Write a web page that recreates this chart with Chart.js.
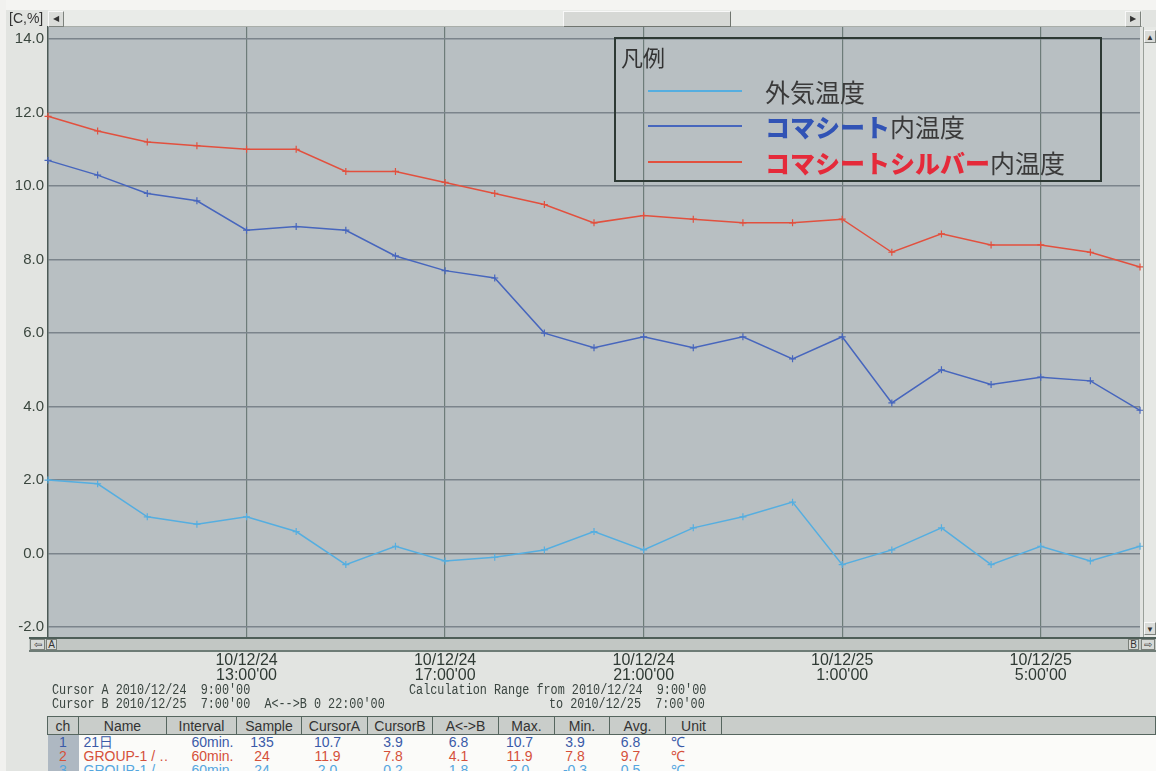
<!DOCTYPE html>
<html>
<head>
<meta charset="utf-8">
<script src="https://cdn.jsdelivr.net/npm/chart.js@4/dist/chart.umd.min.js"></script>
<style>
html,body{margin:0;padding:0;}
body{width:1156px;height:771px;position:relative;overflow:hidden;background:#e2e4e1;font-family:'Liberation Sans',Arial,sans-serif;}
#topband{position:absolute;left:0;top:0;width:1156px;height:10px;background:#f4f4f2;}
#leftband{position:absolute;left:0;top:0;width:6px;height:771px;background:#f1f1ef;}
#chartWrap{position:absolute;left:0;top:0;width:1156px;height:687px;}
#unit{position:absolute;left:9px;top:10px;font-size:14px;color:#333;font-family:'Liberation Sans',sans-serif;}
.sb{position:absolute;box-sizing:border-box;}
#hscrollTop{left:48px;top:10px;width:1094px;height:17px;background:#e9ebe8;border-bottom:1px solid #a9aea9;}
.btn{position:absolute;box-sizing:border-box;background:#dadcd9;border:1px solid #f8f8f8;border-right-color:#7d827d;border-bottom-color:#7d827d;font-size:8px;color:#333;text-align:center;line-height:13px;}
#thumb{position:absolute;left:515px;top:1px;width:168px;height:16px;box-sizing:border-box;background:#d6d8d5;border:1px solid #f8f8f8;border-right-color:#70756f;border-bottom-color:#70756f;}
#vscroll{left:1143px;top:27px;width:13px;height:610px;background:#e6e8e5;border-left:1px solid #9aa09a;}
#hscrollBot{left:29px;top:637px;width:1127px;height:15px;background:#c2c7c4;border-top:2px solid #4e5e58;border-bottom:2px solid #6e7c76;}
.box{position:absolute;box-sizing:border-box;background:#d7dad7;border:1px solid #7a807a;font-size:10px;color:#333;text-align:center;line-height:10px;font-family:'Liberation Sans',sans-serif;}
#legend{position:absolute;left:614px;top:37px;width:488px;height:145px;box-sizing:border-box;border:2px solid #2d3934;}
#legTitle{position:absolute;left:5px;top:3px;font-family:'Noto Sans CJK JP',sans-serif;font-size:22px;color:#333;line-height:28px;}
.legRow{position:absolute;left:0;width:480px;height:34px;}
.legLine{position:absolute;left:32px;width:94px;height:2px;top:16px;}
.legText{position:absolute;left:149px;top:0;font-family:'Noto Sans CJK JP',sans-serif;font-size:25px;line-height:34px;color:#3a3a3a;white-space:nowrap;}
.mono{position:absolute;font-family:'Liberation Mono','DejaVu Sans Mono',monospace;font-size:11.8px;color:#3a4540;white-space:pre;line-height:13px;transform:scaleY(1.25);transform-origin:0 0;}
#tbl{position:absolute;left:47px;top:716px;border-collapse:collapse;table-layout:fixed;width:1109px;font-family:'Liberation Sans Narrow','Liberation Sans',sans-serif;font-size:14px;}
#tbl th{height:17px;padding:0;font-weight:normal;color:#333;background:#c9cdca;border:1px solid #56665f;text-align:center;line-height:16px;}
#tbl td{height:14px;padding:0;line-height:14px;background:#fbfbf9;text-align:center;padding-right:14px;white-space:nowrap;overflow:hidden;}
#tbl td.ch{background:#aeb8c2;padding-right:0;}
#tbl td.name{text-align:left;padding-left:5px;padding-right:0;}
#tbl td.intv{text-align:right;padding-right:3px;}
#tbl td.unit{text-align:left;padding-left:5px;padding-right:0;}
#tbl td.rest{padding:0;}
</style>
</head>
<body>
<div id="topband"></div>
<div id="leftband"></div>
<div id="chartWrap"><canvas id="c" width="1156" height="687"></canvas></div>
<div id="unit">[C,%]</div>
<div class="sb" id="hscrollTop">
  <div class="btn" style="left:0;top:1px;width:16px;height:16px;">&#9664;</div>
  <div id="thumb"></div>
  <div class="btn" style="left:1077px;top:1px;width:16px;height:16px;">&#9654;</div>
</div>
<div class="sb" id="vscroll">
  <div class="btn" style="left:0;top:3px;width:12px;height:13px;">&#9650;</div>
  <div class="btn" style="left:0;top:595px;width:12px;height:13px;">&#9660;</div>
</div>
<div class="sb" id="hscrollBot">
  <div class="box" style="left:1px;top:0;width:15px;height:11px;">&#8678;</div>
  <div class="box" style="left:17px;top:0;width:11px;height:11px;">A</div>
  <div class="box" style="left:1099px;top:0;width:11px;height:11px;">B</div>
  <div class="box" style="left:1112px;top:0;width:14px;height:11px;">&#8680;</div>
</div>
<div id="legend"><div id="legTitle">凡例</div></div>
<div class="mono" style="left:52px;top:683px;">Cursor A 2010/12/24  9:00'00</div>
<div class="mono" style="left:52px;top:697px;">Cursor B 2010/12/25  7:00'00  A&lt;--&gt;B 0 22:00'00</div>
<div class="mono" style="left:409px;top:683px;">Calculation Range from 2010/12/24  9:00'00</div>
<div class="mono" style="left:549px;top:697px;">to 2010/12/25  7:00'00</div>
<table id="tbl">
<colgroup><col style="width:31px"><col style="width:88px"><col style="width:70px"><col style="width:65px"><col style="width:66px"><col style="width:65px"><col style="width:66px"><col style="width:56px"><col style="width:55px"><col style="width:56px"><col style="width:56px"><col></colgroup>
<thead><tr><th>ch</th><th>Name</th><th>Interval</th><th>Sample</th><th>CursorA</th><th>CursorB</th><th>A&lt;-&gt;B</th><th>Max.</th><th>Min.</th><th>Avg.</th><th>Unit</th><th></th></tr></thead>
<tbody id="tbody"></tbody>
</table>
<script>
// ---- data ----
const days = ['10/12/24','10/12/24','10/12/24','10/12/24','10/12/24','10/12/24','10/12/24','10/12/24','10/12/24','10/12/24','10/12/24','10/12/24','10/12/24','10/12/24','10/12/24','10/12/25','10/12/25','10/12/25','10/12/25','10/12/25','10/12/25','10/12/25','10/12/25'];
const hours = ["9:00'00","10:00'00","11:00'00","12:00'00","13:00'00","14:00'00","15:00'00","16:00'00","17:00'00","18:00'00","19:00'00","20:00'00","21:00'00","22:00'00","23:00'00","0:00'00","1:00'00","2:00'00","3:00'00","4:00'00","5:00'00","6:00'00","7:00'00"];
const xTickHours = ["13:00'00","17:00'00","21:00'00","1:00'00","5:00'00"];
const yTicks = [-2, 0, 2, 4, 6, 8, 10, 12, 14];
const seriesNames = ['外気温度', 'コマシート内温度', 'コマシートシルバー内温度'];
const outsideTemp = [2.0,1.9,1.0,0.8,1.0,0.6,-0.3,0.2,-0.2,-0.1,0.1,0.6,0.1,0.7,1.0,1.4,-0.3,0.1,0.7,-0.3,0.2,-0.2,0.2];
const komaSheetTemp = [10.7,10.3,9.8,9.6,8.8,8.9,8.8,8.1,7.7,7.5,6.0,5.6,5.9,5.6,5.9,5.3,5.9,4.1,5.0,4.6,4.8,4.7,3.9];
const komaSilverTemp = [11.9,11.5,11.2,11.1,11.0,11.0,10.4,10.4,10.1,9.8,9.5,9.0,9.2,9.1,9.0,9.0,9.1,8.2,8.7,8.4,8.4,8.2,7.8];
const tableRows = [
  ['1','21日','60min.','135','10.7','3.9','6.8','10.7','3.9','6.8','℃'],
  ['2','GROUP-1  / …','60min.','24','11.9','7.8','4.1','11.9','7.8','9.7','℃'],
  ['3','GROUP-1  / …','60min.','24','2.0','0.2','1.8','2.0','-0.3','0.5','℃']
];

// ---- styles ----
const colors = ['#55aee0', '#4766bd', '#e2503e'];
const textColors = ['#3a5aa8', '#d5503a', '#55a6df'];
const legendHi = ['', '#3153b5', '#e52a3a'];

const plotBg = {
  id: 'plotBg',
  beforeDraw(chart) {
    const {ctx, chartArea: a} = chart;
    ctx.save();
    ctx.fillStyle = '#b8bfc2';
    ctx.fillRect(a.left, a.top, a.right - a.left, a.bottom - a.top);
    ctx.restore();
  }
};

const mkDs = (i, data) => ({
  label: seriesNames[i],
  data: data,
  borderColor: colors[i],
  backgroundColor: colors[i],
  borderWidth: 1.5,
  pointStyle: 'cross',
  pointRadius: 3.5,
  pointBorderWidth: 1.2,
  pointBorderColor: colors[i],
  tension: 0,
  fill: false
});

const chart = new Chart(document.getElementById('c'), {
  type: 'line',
  data: {
    labels: hours,
    datasets: [mkDs(0, outsideTemp), mkDs(1, komaSheetTemp), mkDs(2, komaSilverTemp)]
  },
  options: {
    responsive: false,
    animation: false,
    layout: {padding: {left: 0, right: 14, top: 27, bottom: 0}},
    plugins: {legend: {display: false}, tooltip: {enabled: false}},
    scales: {
      x: {
        type: 'category',
        offset: false,
        afterFit(s) { s.height = 50; },
        border: {display: true, color: '#4c5a56', width: 1},
        grid: {
          drawTicks: false,
          color: c => (c.tick && xTickHours.includes(hours[c.index])) ? '#6d7c79' : 'rgba(0,0,0,0)',
          lineWidth: 1.2
        },
        ticks: {
          autoSkip: false,
          maxRotation: 0,
          padding: 16,
          color: '#2f3a34',
          font: {family: "'Liberation Sans Narrow','Liberation Sans',sans-serif", size: 16, lineHeight: 0.95},
          callback: (v, i) => xTickHours.includes(hours[i]) ? [days[i], hours[i]] : ''
        }
      },
      y: {
        min: -2.27,
        max: 14.33,
        afterFit(s) { s.width = 48; },
        afterBuildTicks(s) { s.ticks = yTicks.map(v => ({value: v})); },
        border: {display: true, color: '#4c5a56', width: 1.5},
        grid: {drawTicks: false, color: '#7b848b', lineWidth: 1.5},
        ticks: {
          padding: 4,
          color: '#3a463e',
          font: {family: "'Liberation Sans Narrow','Liberation Sans',sans-serif", size: 15},
          callback: v => Number(v).toFixed(1)
        }
      }
    }
  },
  plugins: [plotBg]
});

// ---- legend built from datasets ----
const leg = document.getElementById('legend');
const rowTops = [35, 70, 106];
chart.data.datasets.forEach((ds, i) => {
  const row = document.createElement('div');
  row.className = 'legRow';
  row.style.top = rowTops[i] + 'px';
  const line = document.createElement('div');
  line.className = 'legLine';
  line.style.background = ds.borderColor;
  row.appendChild(line);
  const t = document.createElement('div');
  t.className = 'legText';
  const name = ds.label;
  const suffix = '内温度';
  if (legendHi[i] && name.endsWith(suffix)) {
    const b = document.createElement('span');
    b.textContent = name.slice(0, name.length - suffix.length);
    b.style.color = legendHi[i];
    b.style.fontWeight = '900';
    t.appendChild(b);
    t.appendChild(document.createTextNode(suffix));
  } else {
    t.textContent = name;
  }
  row.appendChild(t);
  leg.appendChild(row);
});

// ---- table ----
const cls = ['ch','name','intv','','','','','','','','unit'];
const tb = document.getElementById('tbody');
tableRows.forEach((r, i) => {
  const tr = document.createElement('tr');
  r.forEach((v, j) => {
    const td = document.createElement('td');
    td.textContent = v;
    if (cls[j]) td.className = cls[j];
    td.style.color = textColors[i];
    tr.appendChild(td);
  });
  const rest = document.createElement('td');
  rest.className = 'rest';
  tr.appendChild(rest);
  tb.appendChild(tr);
});
</script>
</body>
</html>
